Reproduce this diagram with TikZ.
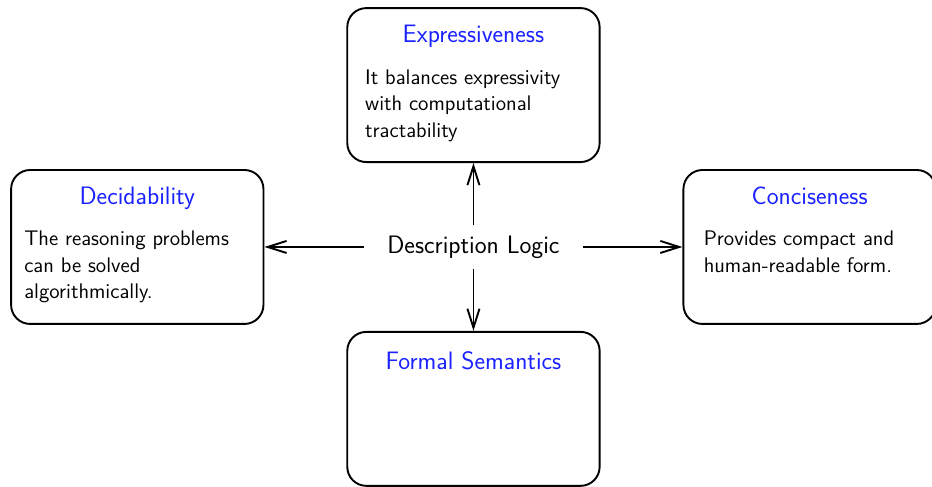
\documentclass[tikz,border=0pt]{standalone}
\usetikzlibrary{arrows.meta, positioning}
\usepackage{xcolor}
\definecolor{HeadBlue}{HTML}{1A22FF}
\tikzset{
  topic/.style={draw, line width=1.2pt, rounded corners=12pt,
    minimum width=159pt, minimum height=97pt, inner sep=0pt},
  hbox/.style={font=\sffamily\fontsize{15.9}{19}\selectfont, text=HeadBlue, inner sep=0pt},
  tbox/.style={font=\sffamily\fontsize{13.3}{16.7}\selectfont, align=left, inner sep=0pt},
  core/.style={font=\sffamily\fontsize{15.9}{19}\selectfont, minimum width=138pt, minimum height=27pt, inner sep=0pt},
  link/.style={-{Straight Barb[length=12pt, width=7.6pt]}, line width=1.2pt},
}
\begin{document}
\begin{tikzpicture}
    \useasboundingbox (-298.3pt,-150.6pt) rectangle (288.9pt,155.6pt);
    \node[core] (dl) {Description Logic};
    \node[topic, above=52.9pt of dl.center] (expr) {};
    \node[topic, below=52.9pt of dl.center] (sem) {};
    \node[topic, left=131.7pt of dl.center] (dec) {};
    \node[topic, right=131.7pt of dl.center] (con) {};
    \node[hbox, below=11pt of expr.north] (exprh) {Expressiveness};
    \node[hbox, below=11pt of dec.north] (dech) {Decidability};
    \node[hbox, below=11pt of con.north] (conh) {Conciseness};
    \node[hbox, below=13pt of sem.north] (semh) {Formal Semantics};
    \node[tbox, below=39pt of expr.north, xshift=-6.7pt] (exprt) {It balances expressivity\\with computational\\tractability};
    \node[tbox, below=39pt of dec.north, xshift=-6.7pt] (dect) {The reasoning problems\\can be solved\\algorithmically.};
    \node[tbox, below=39pt of con.north, xshift=-6.7pt] (cont) {Provides compact and\\human-readable form.};
    \draw[link] (dl) -- (expr);
    \draw[link] (dl) -- (sem);
    \draw[link] (dl) -- (dec);
    \draw[link] (dl) -- (con);
\end{tikzpicture}
\end{document}
